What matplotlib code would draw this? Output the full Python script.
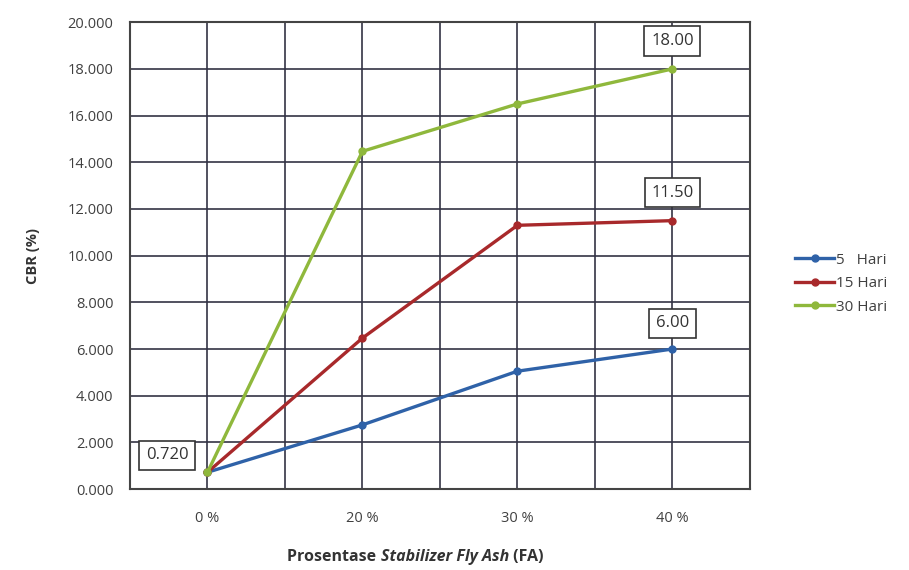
import matplotlib.pyplot as plt
from matplotlib.offsetbox import TextArea, HPacker, AnchoredOffsetbox
import numpy as np

# data
categories = ['0 %', '20 %', '30 %', '40 %']
hari_5 = [0.72, 2.75, 5.05, 6.00]
hari_15 = [0.72, 6.47, 11.30, 11.50]
hari_30 = [0.72, 14.47, 16.50, 18.00]
series_names = ['5   Hari', '15 Hari', '30 Hari']
series_colors = ['#2f62a8', '#a8292b', '#8fb83c']
y_ticks = np.arange(0, 21, 2)

plt.rcParams['font.family'] = ['Open Sans', 'DejaVu Sans']

fig = plt.figure(figsize=(9.09, 5.70), dpi=100)
ax = fig.add_axes([0.143, 0.142, 0.682, 0.819])

x = np.arange(len(categories))
for vals, name, col in zip([hari_5, hari_15, hari_30], series_names, series_colors):
    ax.plot(x, vals, color=col, lw=2.4, marker='o', ms=5,
            mfc=col, mec=col, label=name, zorder=3)

ax.set_xlim(-0.5, len(categories) - 0.5)
ax.set_ylim(0, 20)
ax.set_yticks(y_ticks)
ax.set_yticklabels(['%.3f' % v for v in y_ticks], fontsize=10.5, color='#404040')
ax.set_xticks(x)
ax.set_xticklabels(categories, fontsize=10.5, color='#404040')
ax.set_xticks(np.arange(-0.5, len(categories), 1.0), minor=True)
ax.tick_params(axis='y', length=0, pad=12)
ax.tick_params(axis='x', length=0, pad=16)
ax.tick_params(axis='x', which='minor', length=0)

ax.grid(True, which='major', color='#333344', lw=1.2)
ax.grid(True, which='minor', axis='x', color='#333344', lw=1.2)
ax.set_axisbelow(True)
for s in ax.spines.values():
    s.set_color('#444444')
    s.set_linewidth(1.5)

# value labels in boxes
box = dict(boxstyle='square,pad=0.4', fc='white', ec='#333333', lw=1.2)
ax.annotate('0.720', (0, hari_5[0]), xytext=(-0.26, 1.45), fontsize=12,
            color='#333333', ha='center', va='center', bbox=box, zorder=4)
ax.annotate('6.00', (3, hari_5[3]), xytext=(3, hari_5[3] + 1.1), fontsize=12,
            color='#333333', ha='center', va='center', bbox=box, zorder=4)
ax.annotate('11.50', (3, hari_15[3]), xytext=(3, hari_15[3] + 1.2), fontsize=12,
            color='#333333', ha='center', va='center', bbox=box, zorder=4)
ax.annotate('18.00', (3, hari_30[3]), xytext=(3, hari_30[3] + 1.2), fontsize=12,
            color='#333333', ha='center', va='center', bbox=box, zorder=4)

ax.set_ylabel('CBR (%)', fontsize=10.5, fontweight='bold', color='#333333', labelpad=20)

# x label with italic part
parts = [('Prosentase ', 'normal'), ('Stabilizer Fly Ash', 'italic'), (' (FA)', 'normal')]
areas = [TextArea(t, textprops=dict(fontsize=11.5, fontweight='bold', style=st, color='#333333'))
         for t, st in parts]
pack = HPacker(children=areas, pad=0, sep=0, align='baseline')
anch = AnchoredOffsetbox(loc='center', child=pack, frameon=False,
                         bbox_to_anchor=(0.457, 0.022), bbox_transform=fig.transFigure,
                         borderpad=0)
fig.add_artist(anch)

ax.legend(loc='center left', bbox_to_anchor=(1.05, 0.44), frameon=False,
          fontsize=11, handlelength=2.6, labelspacing=0.55, handletextpad=0.1,
          labelcolor='#404040')

fig.savefig('out.png', dpi=100)
